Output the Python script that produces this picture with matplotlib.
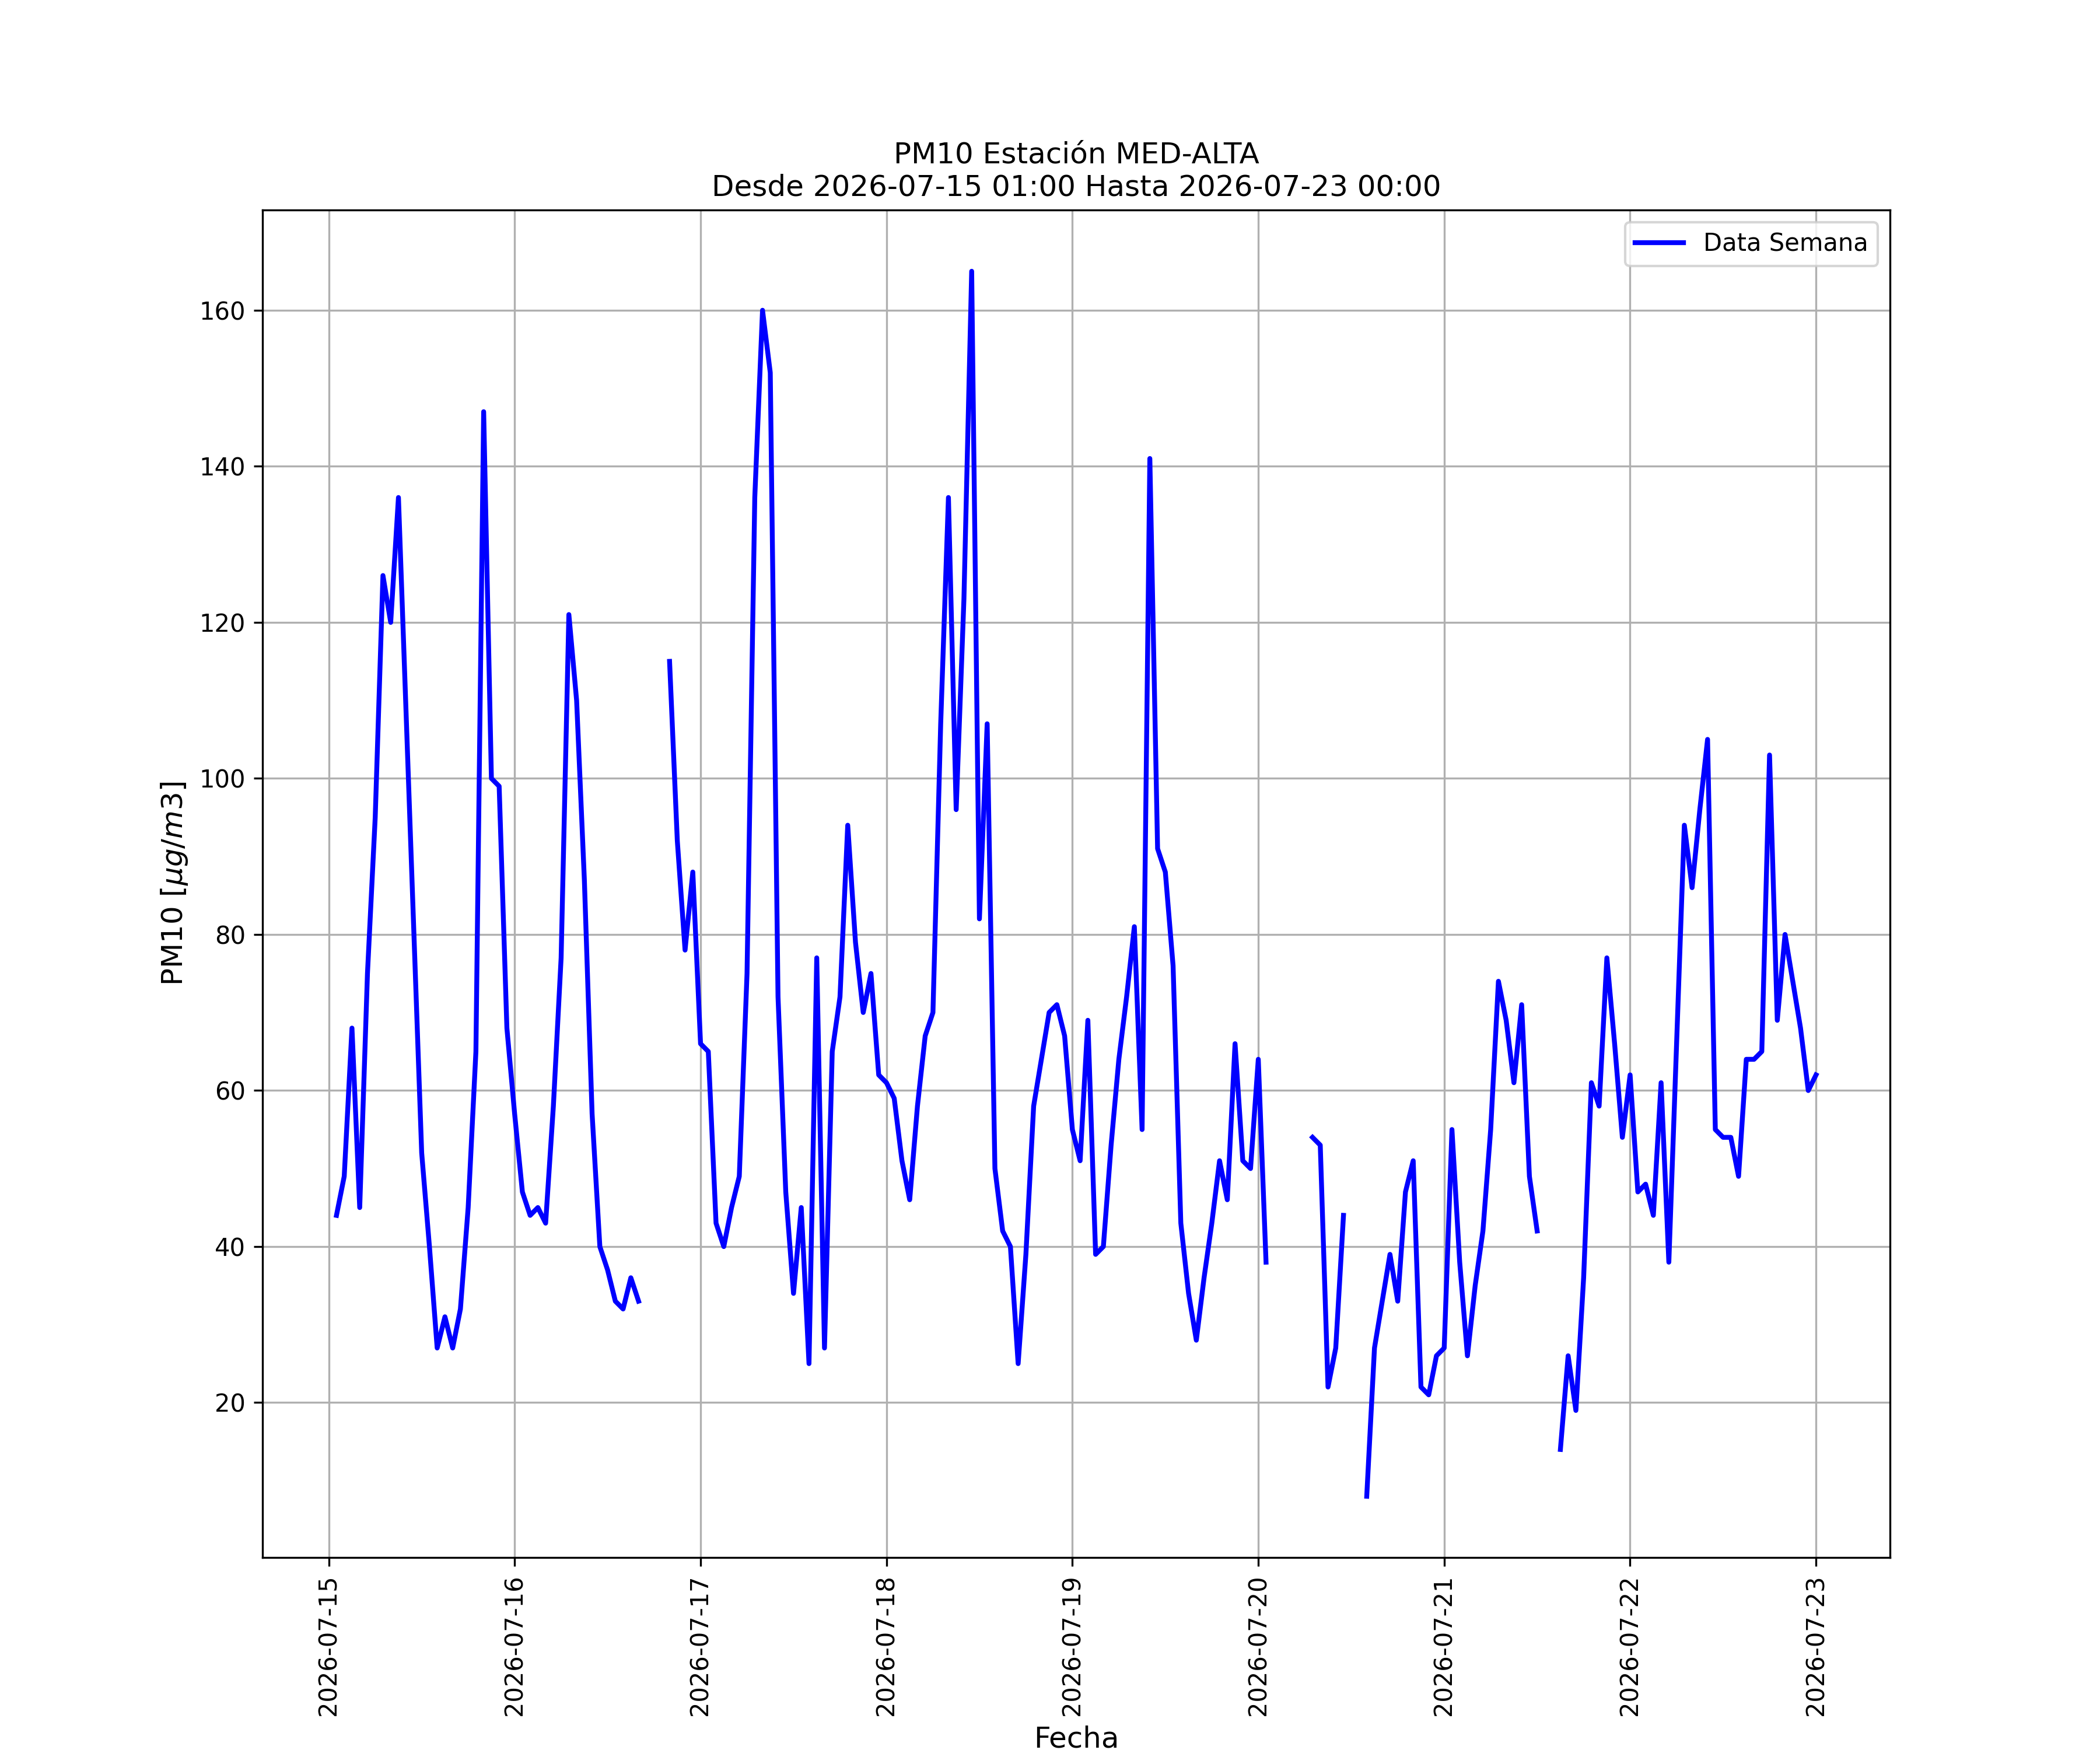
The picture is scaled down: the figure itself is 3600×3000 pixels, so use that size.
import numpy as np
import pandas as pd
import matplotlib
matplotlib.use('Agg')
import matplotlib.pyplot as plt
import matplotlib.dates as mdates

nan = np.nan

# PM10 hourly values, 2026-07-15 01:00 -> 2026-07-23 00:00 (NaN = missing)
d15 = [44, 49, 68, 45, 75, 95, 126, 120, 136, 108, 80, 52,
       40, 27, 31, 27, 32, 45, 65, 147, 100, 99, 68]            # from 01:00
d16 = [57, 47, 44, 45, 43, 58, 77, 121, 110, 87, 57, 40,
       37, 33, 32, 36, 33, nan, nan, nan, 115, 92, 78, 88]
d17 = [66, 65, 43, 40, 45, 49, 75, 136, 160, 152, 72, 47,
       34, 45, 25, 77, 27, 65, 72, 94, 79, 70, 75, 62]
d18 = [61, 59, 51, 46, 58, 67, 70, 107, 136, 96, 123, 165,
       82, 107, 50, 42, 40, 25, 39, 58, 64, 70, 71, 67]
d19 = [55, 51, 69, 39, 40, 53, 64, 72, 81, 55, 141, 91,
       88, 76, 43, 34, 28, 36, 43, 51, 46, 66, 51, 50]
d20 = [64, 38, nan, nan, nan, nan, nan, 54, 53, 22, 27, 44,
       nan, nan, 8, 27, 33, 39, 33, 47, 51, 22, 21, 26]
d21 = [27, 55, 38, 26, 35, 42, 55, 74, 69, 61, 71, 49,
       42, nan, nan, 14, 26, 19, 36, 61, 58, 77, 66, 54]
d22 = [62, 47, 48, 44, 61, 38, 66, 94, 86, 96, 105, 55,
       54, 54, 49, 64, 64, 65, 103, 69, 80, 74, 68, 60]
d23 = [62]                                                      # 00:00

pm10 = np.array(d15 + d16 + d17 + d18 + d19 + d20 + d21 + d22 + d23, dtype=float)
fechas = pd.date_range('2026-07-15 01:00', '2026-07-23 00:00', freq='h')

fig, ax = plt.subplots(figsize=(12, 10))
ax.plot(fechas, pm10, color='blue', linewidth=2, label='Data Semana')

ax.set_title('PM10 Estación MED-ALTA\nDesde 2026-07-15 01:00 Hasta 2026-07-23 00:00', fontsize=12)
ax.set_xlabel('Fecha', fontsize=12)
ax.set_ylabel(r'PM10 [$\mu g/m3$]', fontsize=12)

ax.xaxis.set_major_locator(mdates.DayLocator())
ax.xaxis.set_major_formatter(mdates.DateFormatter('%Y-%m-%d'))
plt.setp(ax.get_xticklabels(), rotation=90)
ax.grid(True)
ax.legend(loc='upper right')

fig.savefig('out.png', dpi=300)
